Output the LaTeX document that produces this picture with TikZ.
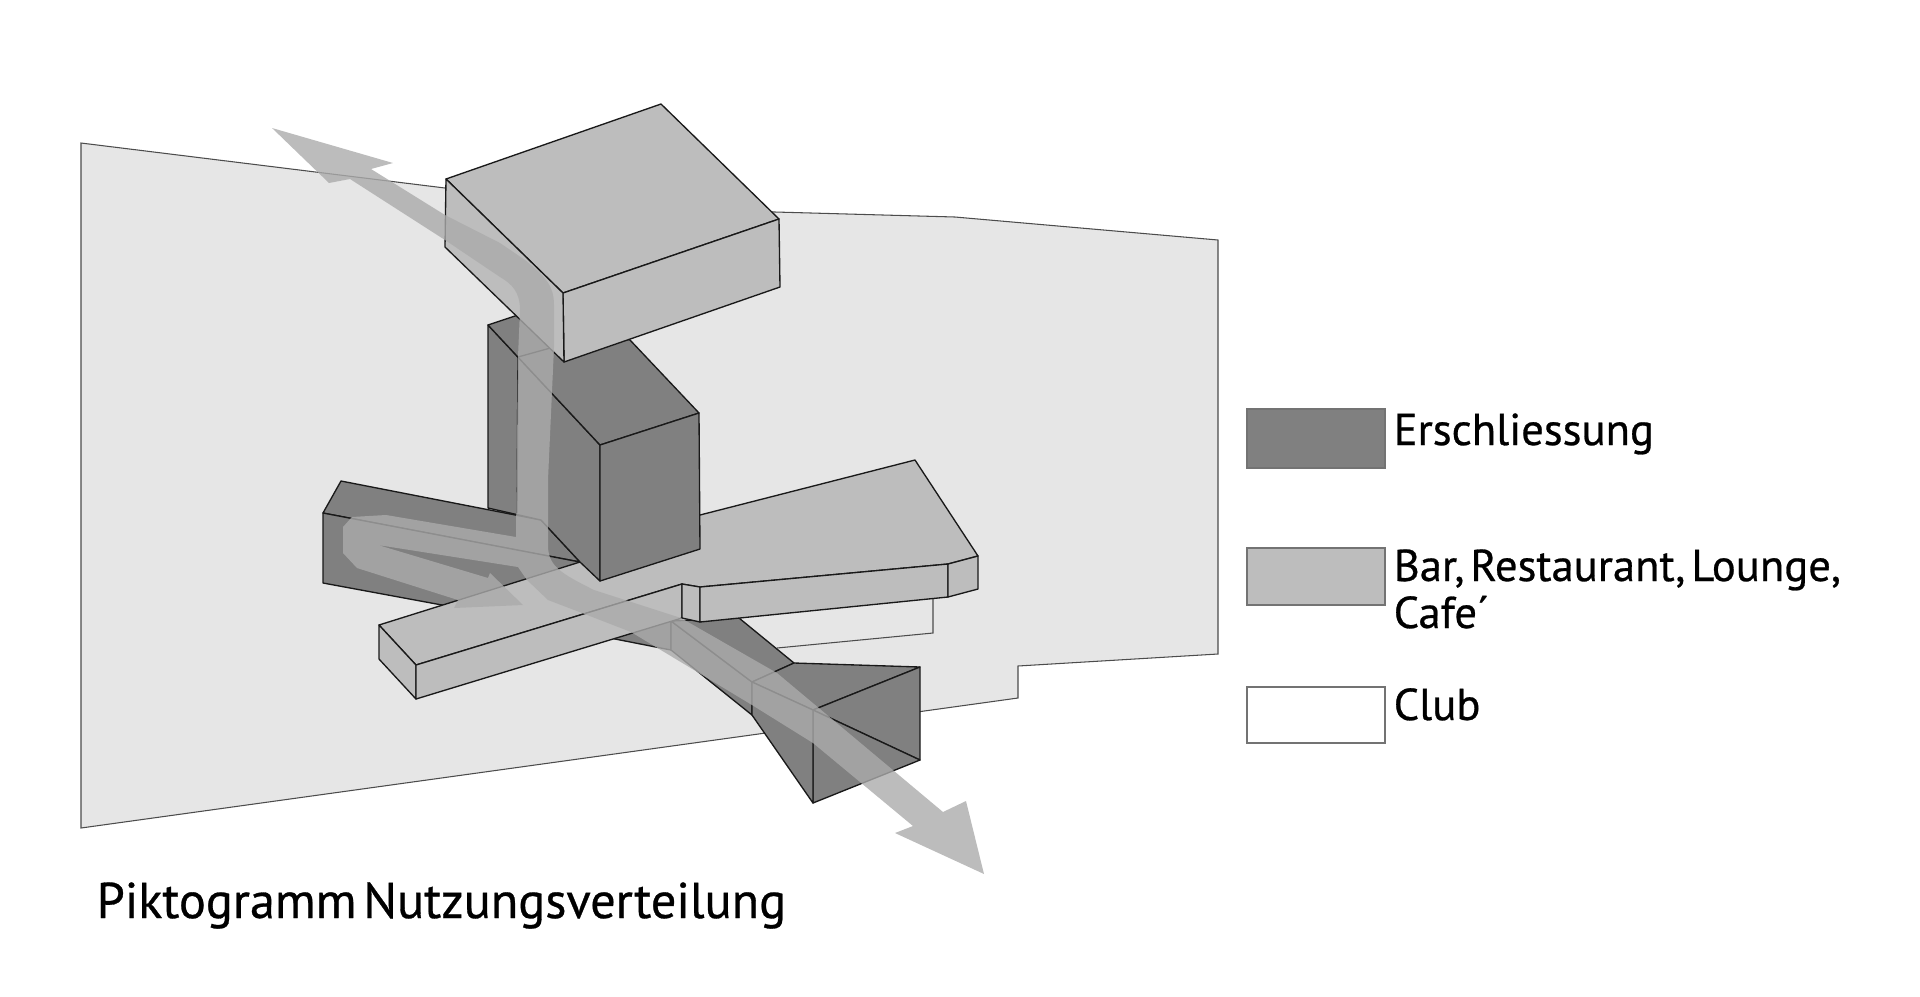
\documentclass[tikz,border=0pt]{standalone}
\usepackage{fontspec}
\setmainfont[WordSpace=0.5,FakeBold=0.6]{PT Sans}
\definecolor{dunkel}{HTML}{808080}
\definecolor{mittel}{HTML}{BDBDBD}
\definecolor{grund}{HTML}{E6E6E6}
\definecolor{pfeilgrau}{HTML}{ABABAB}
\tikzset{
  kante/.style={draw=black!90,line width=0.38pt,line join=round},
  dunkelflaeche/.style={kante,fill=dunkel},
  mittelflaeche/.style={kante,fill=mittel},
  grundflaeche/.style={draw=black!70,line width=0.3pt,fill=grund},
  legende/.style={draw=black!55,line width=0.35pt},
  legendetext/.style={anchor=base west,inner sep=0pt,font=\fontsize{12.7pt}{14pt}\selectfont},
}
\begin{document}
\begin{tikzpicture}[x=0.01cm,y=-0.01cm]
\useasboundingbox (0,0) rectangle (1920,996);

%Grundstueck
\path[grundflaeche] (81,143) -- (445,188) -- (775,212) -- (955,217) -- (1218,240) -- (1218,654)
  -- (1018,666) -- (1018,698) -- (81,828) -- cycle;

%Club
\draw[draw=black!70,line width=0.3pt] (933,590) -- (933,633) -- (777,648);

%Erschliessung unten
\path[dunkelflaeche] (323,513) -- (341,481) -- (541,520) -- (580,562) -- cycle;
\path[dunkelflaeche] (323,513) -- (580,562) -- (671,621) -- (671,650) -- (442,605) -- (323,583) -- cycle;
\path[dunkelflaeche] (671,621) -- (671,650) -- (752,715) -- (752,682) -- cycle;
\path[dunkelflaeche] (671,621) -- (739,618) -- (794,663) -- (752,682) -- cycle;

%Trichter
\path[dunkelflaeche] (752,682) -- (794,663) -- (920,667) -- (813,710) -- cycle;
\path[dunkelflaeche] (813,710) -- (920,667) -- (920,760) -- cycle;
\path[dunkelflaeche] (813,710) -- (920,760) -- (813,803) -- cycle;
\path[dunkelflaeche] (752,682) -- (813,710) -- (813,803) -- (752,715) -- cycle;

%Bar, Restaurant
\path[mittelflaeche] (379,625) -- (580,562) -- (700,515) -- (915,460) -- (978,556) -- (948,564)
  -- (700,587) -- (682,584) -- (416,665) -- cycle;
\path[mittelflaeche] (379,625) -- (416,665) -- (416,699) -- (379,659) -- cycle;
\path[mittelflaeche] (416,665) -- (682,584) -- (682,618) -- (416,699) -- cycle;
\path[mittelflaeche] (682,584) -- (700,587) -- (700,622) -- (682,618) -- cycle;
\path[mittelflaeche] (700,587) -- (948,564) -- (948,597) -- (700,622) -- cycle;
\path[mittelflaeche] (948,564) -- (978,556) -- (978,589) -- (948,597) -- cycle;

%Erschliessung Turm
\path[dunkelflaeche] (488,325) -- (600,445) -- (600,581) -- (580,562) -- (541,520) -- (488,508) -- cycle;
\path[dunkelflaeche] (488,325) -- (518,315) -- (630,340) -- (699,413) -- (600,445) -- cycle;
\path[dunkelflaeche] (600,445) -- (699,413) -- (700,549) -- (600,581) -- cycle;
\draw[kante] (518,357) -- (517,513);
\draw[kante] (518,357) -- (554,347);

%Kubus oben
\path[mittelflaeche] (446,179) -- (661,104) -- (779,219) -- (563,293) -- cycle;
\path[mittelflaeche] (563,293) -- (779,219) -- (780,287) -- (564,362) -- cycle;
\path[mittelflaeche] (446,179) -- (563,293) -- (564,362) -- (445,247) -- cycle;

%Pfeil
\newcommand\pfeil{(272,128) -- (393,163) -- (371,169) -- (445,215) -- (500,243) -- (525,260)
  .. controls (546,277) and (554,286) .. (554,305) -- (554,347) -- (548,480) -- (548,547)
  .. controls (549,566) and (560,573) .. (594,590) -- (681,618) -- (777,673) -- (943,812)
  -- (966,801) -- (984,874) -- (895,833) -- (913,826) -- (813,743) -- (752,705) -- (631,632)
  -- (582,613) -- (548,600) -- (527,580) -- (518,567) -- (378,545) -- (488,578) -- (490,573)
  -- (523,605) -- (454,608) -- (458,600) -- (357,568) -- (343,553) -- (343,527) -- (352,517)
  -- (386,515) -- (516,537) -- (518,357) -- (520,310)
  .. controls (520,292) and (512,284) .. (500,277) -- (445,240) -- (350,179) -- (329,183) -- cycle}
\fill[pfeilgrau,fill opacity=0.8] \pfeil;

%Legende
\draw[legende,fill=dunkel] (1247,409) rectangle (1385,468);
\node[legendetext] (erschliessung) at (1393,445) {Erschliessung};
\draw[legende,fill=mittel] (1247,548) rectangle (1385,605);
\node[legendetext] (bar) at (1393,581) {Bar, Restaurant, Lounge,};
\node[legendetext] (cafe) at (1393,628) {Cafe´};
\draw[legende,fill=white] (1247,687) rectangle (1385,743);
\node[legendetext] (club) at (1393,720) {Club};

\node[anchor=base west,inner sep=0pt,font=\fontsize{14.3pt}{16pt}\selectfont] (titel) at (96,918) {Piktogramm Nutzungsverteilung};

\end{tikzpicture}
\end{document}
